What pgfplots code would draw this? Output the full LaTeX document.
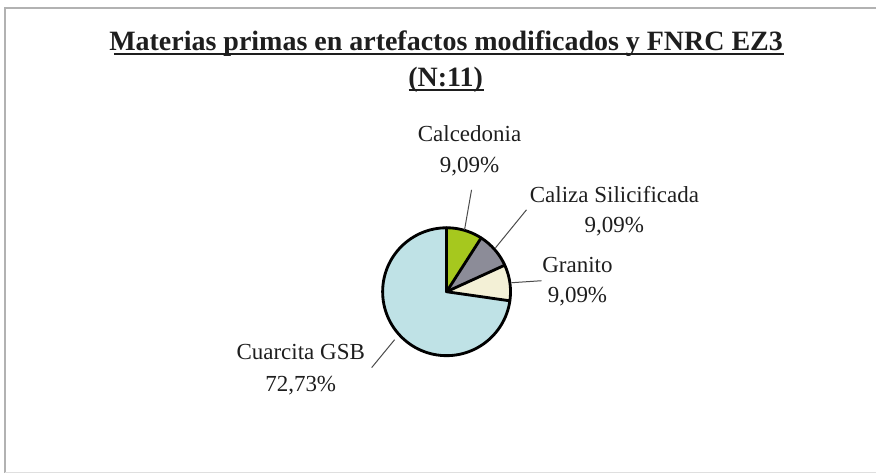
\documentclass[border=0pt]{standalone}
\usepackage{pgfplots}
\pgfplotsset{compat=1.18}
\usepackage{pgfplotstable}
\usepackage{fontspec}
\setmainfont{Liberation Serif}

\definecolor{calc}{HTML}{A6C81E}
\definecolor{cali}{HTML}{8C8C98}
\definecolor{gran}{HTML}{F3F0D6}
\definecolor{cuar}{HTML}{BFE2E6}
\definecolor{txt}{HTML}{1E1E1E}

% counts per raw material (N = 11)
\pgfplotstableread{
name value
Calcedonia 1
Caliza 1
Granito 1
Cuarcita 8
}\pietable

\pgfplotstablegetelem{0}{value}\of\pietable \let\va\pgfplotsretval
\pgfplotstablegetelem{1}{value}\of\pietable \let\vb\pgfplotsretval
\pgfplotstablegetelem{2}{value}\of\pietable \let\vc\pgfplotsretval
\pgfplotstablegetelem{3}{value}\of\pietable \let\vd\pgfplotsretval
\pgfmathsetmacro\tot{\va+\vb+\vc+\vd}
% slices start at 12 o'clock and run clockwise
\pgfmathsetmacro\aA{90}
\pgfmathsetmacro\aB{\aA-360*\va/\tot}
\pgfmathsetmacro\aC{\aB-360*\vb/\tot}
\pgfmathsetmacro\aD{\aC-360*\vc/\tot}
\pgfmathsetmacro\aE{\aD-360*\vd/\tot}
\pgfmathsetmacro\pA{100*\va/\tot}
\pgfmathsetmacro\pB{100*\vb/\tot}
\pgfmathsetmacro\pC{100*\vc/\tot}
\pgfmathsetmacro\pD{100*\vd/\tot}
\pgfkeys{/pgf/number format/.cd,fixed,fixed zerofill,precision=2,use comma,assume math mode=true}
\pgfmathprintnumberto{\pA}{\sA}
\pgfmathprintnumberto{\pB}{\sB}
\pgfmathprintnumberto{\pC}{\sC}
\pgfmathprintnumberto{\pD}{\sD}

\def\pieR{38.4pt} % pie radius (64 px)

\begin{document}
\begin{tikzpicture}
\begin{axis}[
  width=526.2pt, height=285pt, scale only axis,
  xmin=0, xmax=877, ymin=0, ymax=475,
  hide axis, clip=false,
]
\path (axis cs:0,0) rectangle (axis cs:877,475);
% chart frame (scanned: right side cut off)
\draw[gray!60, line width=1pt] (axis cs:877,467) -- (axis cs:5,467) -- (axis cs:5,2);
\draw[gray!25, line width=0.8pt] (axis cs:5,2) -- (axis cs:877,2);

% title
\node[font=\fontsize{16.8}{20}\selectfont\bfseries, text=txt, anchor=base]
  at (axis cs:446.5,424) {Materias primas en artefactos modificados y FNRC EZ3};
\node[font=\fontsize{16.8}{20}\selectfont\bfseries, text=txt, anchor=base]
  at (axis cs:446,388) {(N:11)};
\draw[txt, line width=1.2pt] (axis cs:114,421) -- (axis cs:785,421);
\draw[txt, line width=1.2pt] (axis cs:409,385) -- (axis cs:484,385);

% slices
\fill[calc] (axis cs:447,183) -- ++(\aA:\pieR) arc[start angle=\aA, end angle=\aB, radius=\pieR] -- cycle;
\fill[cali] (axis cs:447,183) -- ++(\aB:\pieR) arc[start angle=\aB, end angle=\aC, radius=\pieR] -- cycle;
\fill[gran] (axis cs:447,183) -- ++(\aC:\pieR) arc[start angle=\aC, end angle=\aD, radius=\pieR] -- cycle;
\fill[cuar] (axis cs:447,183) -- ++(\aD:\pieR) arc[start angle=\aD, end angle=\aE, radius=\pieR] -- cycle;
\draw[black, line width=1.7pt, line join=round]
  (axis cs:447,183) ++(\aA:\pieR) arc[start angle=\aA, end angle=\aE, radius=\pieR];
\draw[black, line width=1.7pt, line cap=round] (axis cs:447,183) -- ++(\aA:\pieR);
\draw[black, line width=1.7pt, line cap=round] (axis cs:447,183) -- ++(\aB:\pieR);
\draw[black, line width=1.7pt, line cap=round] (axis cs:447,183) -- ++(\aC:\pieR);
\draw[black, line width=1.7pt, line cap=round] (axis cs:447,183) -- ++(\aD:\pieR);

% leader lines
\draw[txt!80, line width=0.6pt] (axis cs:465,245) -- (axis cs:472,285);
\draw[txt!80, line width=0.6pt] (axis cs:496,227) -- (axis cs:527,265);
\draw[txt!80, line width=0.6pt] (axis cs:512,192) -- (axis cs:542,194);
\draw[txt!80, line width=0.6pt] (axis cs:395,135) -- (axis cs:372,107);

% labels
\node[font=\fontsize{13.8}{16}\selectfont, text=txt, anchor=base] at (axis cs:470,333) {Calcedonia};
\node[font=\fontsize{13.8}{16}\selectfont, text=txt, anchor=base] at (axis cs:470,302) {\sA\%};
\node[font=\fontsize{13.8}{16}\selectfont, text=txt, anchor=base] at (axis cs:615,272) {Caliza Silicificada};
\node[font=\fontsize{13.8}{16}\selectfont, text=txt, anchor=base] at (axis cs:615,242) {\sB\%};
\node[font=\fontsize{13.8}{16}\selectfont, text=txt, anchor=base] at (axis cs:578,202) {Granito};
\node[font=\fontsize{13.8}{16}\selectfont, text=txt, anchor=base] at (axis cs:578,172) {\sC\%};
\node[font=\fontsize{13.8}{16}\selectfont, text=txt, anchor=base] at (axis cs:301,115) {Cuarcita GSB};
\node[font=\fontsize{13.8}{16}\selectfont, text=txt, anchor=base] at (axis cs:301,83) {\sD\%};
\end{axis}
\end{tikzpicture}
\end{document}
